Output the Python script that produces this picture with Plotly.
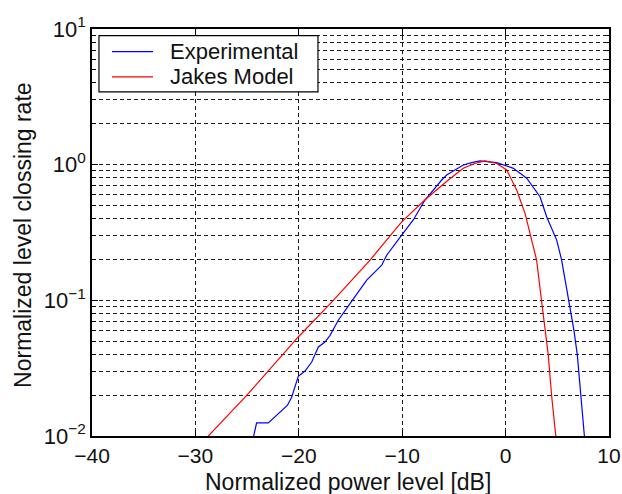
import plotly.graph_objects as go

# Normalized power level [dB] and normalized level crossing rate
exp_x = [-24.5, -24.08, -22.95, -21.11, -20.69, -20.05, -19.40, -18.75, -18.11,
         -17.47, -16.98, -16.18, -15.05, -13.43, -11.98, -11.50, -10.05, -8.93,
         -7.80, -7.15, -6.18, -5.70, -4.09, -3.30, -2.48, -0.86, 0.75, 2.04,
         3.33, 3.97, 4.94, 5.42, 6.16, 6.61, 6.94, 7.26, 7.61, 7.70]
exp_y = [0.0090, 0.0125, 0.0125, 0.0168, 0.0193, 0.0275, 0.0301, 0.0351, 0.0453,
         0.0493, 0.0552, 0.0713, 0.0946, 0.141, 0.182, 0.215, 0.303, 0.391,
         0.549, 0.63, 0.771, 0.839, 0.995, 1.035, 1.065, 1.035, 0.94, 0.794,
         0.58, 0.413, 0.278, 0.198, 0.097, 0.060, 0.0393, 0.0199, 0.0100, 0.0085]

jakes_x = [-29.2, -28.75, -25.04, -20.05, -17.95, -16.66, -13.11, -10.05, -7.63,
           -5.54, -4.09, -3.00, -1.99, -0.86, 0.11, 1.07, 1.88, 2.52, 3.00,
           3.49, 3.81, 4.13, 4.45, 4.84, 4.95]
jakes_y = [0.0092, 0.0100, 0.0199, 0.0537, 0.079, 0.100, 0.198, 0.379, 0.565,
           0.771, 0.94, 1.02, 1.065, 1.02, 0.914, 0.65, 0.438, 0.285, 0.198,
           0.0973, 0.0601, 0.0393, 0.0199, 0.0100, 0.0085]

series_names = ["Experimental", "Jakes Model"]
series_colors = ["#0000ff", "#ff0000"]
x_title = "Normalized power level [dB]"
y_title = "Normalized level clossing rate"
y_tickvals = [0.01, 0.1, 1, 10]
y_ticktext = ["10<sup>−2</sup>", "10<sup>−1</sup>", "10<sup>0</sup>", "10<sup>1</sup>"]

FONT = "Liberation Sans, Arial, sans-serif"
GRID = "#1a1a1a"
DASH = "4px,3px"

fig = go.Figure()
for xs, ys, name, color in [(exp_x, exp_y, series_names[0], series_colors[0]),
                            (jakes_x, jakes_y, series_names[1], series_colors[1])]:
    fig.add_trace(go.Scatter(x=xs, y=ys, mode="lines", name=name,
                             line=dict(color=color, width=1.2), showlegend=False))

fig.update_xaxes(
    range=[-40, 10], dtick=10, tick0=0, automargin=False,
    showline=True, linecolor="black", linewidth=1.5, mirror="ticks",
    ticks="inside", ticklen=6, tickcolor="black",
    showgrid=True, gridcolor=GRID, griddash=DASH, gridwidth=1,
    zeroline=False,
    tickfont=dict(family=FONT, size=21, color="#111"),
)
fig.update_yaxes(
    type="log", range=[-2, 1], automargin=False,
    tickmode="array", tickvals=y_tickvals, ticktext=y_ticktext,
    showline=True, linecolor="black", linewidth=1.5, mirror="ticks",
    ticks="inside", ticklen=6, tickcolor="black",
    showgrid=True, gridcolor=GRID, griddash=DASH, gridwidth=1,
    zeroline=False,
    tickfont=dict(family=FONT, size=22, color="#111"),
    minor=dict(dtick="D1", ticks="inside", ticklen=4, tickcolor="black",
               showgrid=True, gridcolor=GRID, griddash=DASH, gridwidth=1),
)

# axis titles
fig.add_annotation(text=x_title, xref="paper", yref="paper", x=0.495, y=-0.114,
                   xanchor="center", yanchor="middle", showarrow=False,
                   font=dict(family=FONT, size=23, color="#111"))
fig.add_annotation(text=y_title, xref="paper", yref="paper", x=-0.1335, y=0.494,
                   xanchor="center", yanchor="middle", showarrow=False, textangle=-90,
                   font=dict(family=FONT, size=23, color="#111"))

# legend box in the upper-left corner of the axes
fig.add_shape(type="rect", xref="paper", yref="paper",
              x0=0.0135, x1=0.4371, y0=0.8457, y1=0.9835,
              fillcolor="white", line=dict(color="black", width=1.2), layer="above")
for i, (name, color) in enumerate(zip(series_names, series_colors)):
    yy = 0.9442 - i * 0.0616
    fig.add_shape(type="line", xref="paper", yref="paper",
                  x0=0.0387, x1=0.118, y0=yy, y1=yy,
                  line=dict(color=color, width=1.2), layer="above")
    fig.add_annotation(text=name, xref="paper", yref="paper", x=0.147, y=yy,
                       xanchor="left", yanchor="middle", showarrow=False,
                       font=dict(family=FONT, size=22, color="#111"))

fig.update_layout(
    width=622, height=494,
    margin=dict(l=92, r=13, t=29, b=58),
    paper_bgcolor="white", plot_bgcolor="white",
    showlegend=False,
)

fig.write_html("out.html")
